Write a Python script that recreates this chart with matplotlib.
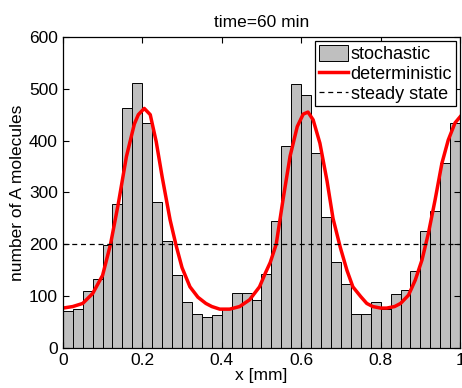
import numpy as np
import matplotlib
matplotlib.use("Agg")
import matplotlib.pyplot as plt

plt.rcParams['font.family'] = ['Liberation Sans', 'DejaVu Sans']

# stochastic histogram: 40 bins of width 0.025 mm
bin_width = 0.025
bin_left = np.arange(40) * bin_width
counts = [71, 76, 110, 134, 199, 277, 462, 511, 433, 282,
          206, 141, 89, 66, 59, 63, 75, 106, 106, 93,
          143, 244, 389, 509, 488, 376, 252, 165, 123, 66,
          65, 88, 75, 104, 112, 148, 225, 264, 356, 434]

# deterministic solution
det_x = [0.000, 0.025, 0.050, 0.075, 0.100, 0.120, 0.140, 0.160, 0.180, 0.190,
         0.205, 0.220, 0.235, 0.250, 0.270, 0.285, 0.300, 0.320, 0.340, 0.360,
         0.375, 0.395, 0.420, 0.445, 0.470, 0.495, 0.510, 0.522, 0.537, 0.555,
         0.572, 0.590, 0.605, 0.617, 0.630, 0.647, 0.665, 0.680, 0.698, 0.715,
         0.730, 0.750, 0.765, 0.780, 0.800, 0.815, 0.835, 0.850, 0.870, 0.887,
         0.904, 0.920, 0.937, 0.954, 0.970, 0.987, 1.000]
det_y = [77, 80, 86, 105, 140, 200, 280, 369, 432, 450,
         462, 450, 398, 330, 247, 198, 155, 118, 98, 86,
         80, 75, 75, 80, 93, 118, 145, 165, 200, 290,
         370, 427, 451, 455, 440, 395, 322, 250, 195, 150,
         118, 99, 86, 80, 77, 77, 80, 86, 102, 131,
         170, 221, 286, 356, 401, 434, 446]

steady = 200

fig = plt.figure(figsize=(4.62, 3.88), dpi=100)
ax = fig.add_axes([0.136, 0.103, 0.860, 0.802])

bars = ax.bar(bin_left, counts, width=bin_width, align="edge", color="#bfbfbf",
              edgecolor="black", linewidth=0.7, label="stochastic")
line, = ax.plot(det_x, det_y, color="red", lw=2.5, label="deterministic")
ss = ax.axhline(steady, color="black", ls=(0, (4, 3)), lw=0.9, label="steady state")

ax.set_xlim(0, 1)
ax.set_ylim(0, 600)
ax.set_xticks([0, 0.2, 0.4, 0.6, 0.8, 1])
ax.set_xticklabels(["0", "0.2", "0.4", "0.6", "0.8", "1"])
ax.set_yticks(range(0, 601, 100))
ax.tick_params(direction="in", top=True, right=True, labelsize=12.5, length=4, width=0.8)
for s in ax.spines.values():
    s.set_linewidth(0.9)

ax.set_xlabel("x [mm]", fontsize=12.5, labelpad=0)
ax.set_ylabel("number of A molecules", fontsize=12.5, labelpad=3)
ax.set_title("time=60 min", fontsize=12.5, pad=7)

leg = ax.legend([bars, line, ss], ["stochastic", "deterministic", "steady state"],
                loc="upper right", fontsize=13, fancybox=False, edgecolor="black",
                framealpha=1, handlelength=1.6, handleheight=1.0, handletextpad=0.15,
                borderpad=0.2, labelspacing=0.08, borderaxespad=0.25)
leg.get_frame().set_linewidth(0.9)

fig.savefig("out.png", dpi=100)
